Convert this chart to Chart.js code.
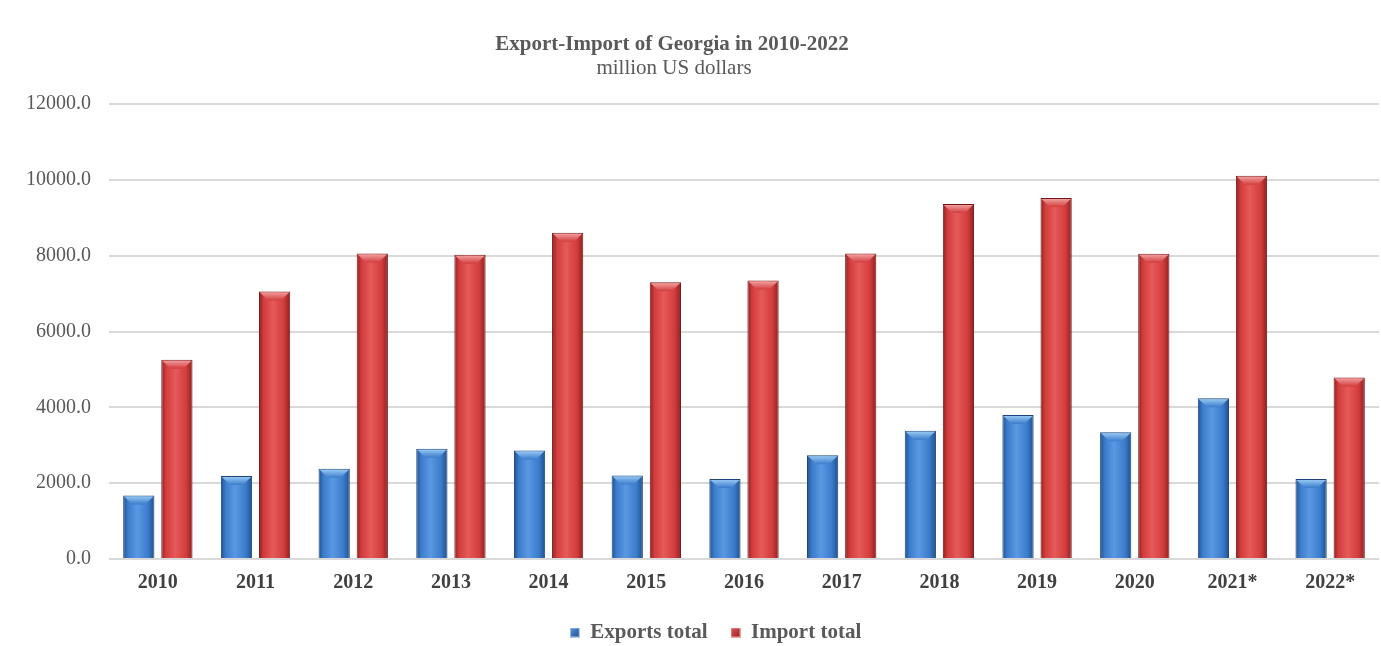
<!DOCTYPE html>
<html>
<head>
<meta charset="utf-8">
<script src="https://cdn.jsdelivr.net/npm/chart.js@4/dist/chart.umd.min.js"></script>
<style>
html,body{margin:0;padding:0;background:#fff;}
#wrap{width:1381px;height:646px;position:relative;}
</style>
</head>
<body>
<div id="wrap"><canvas id="c" width="1381" height="646"></canvas></div>
<script>
const categories = ['2010','2011','2012','2013','2014','2015','2016','2017','2018','2019','2020','2021*','2022*'];
const exportsTotal = [1677, 2186, 2377, 2910, 2861, 2205, 2113, 2737, 3380, 3798, 3342, 4242, 2110];
const importTotal = [5257, 7058, 8056, 8023, 8602, 7300, 7343, 8055, 9362, 9519, 8051, 10105, 4790];
const seriesNames = ['Exports total', 'Import total'];
const titleText = 'Export-Import of Georgia in 2010-2022';
const subtitleText = 'million US dollars';

const palettes = {
  blue: {edge:'#1f4f8c', mid:'#3a7bcb', light:'#5a98e2', border:'#1c4478', cap:'#9fd0f7'},
  red:  {edge:'#8e2020', mid:'#d23c3c', light:'#e65a5a', border:'#701818', cap:'#f5a8a8'}
};

function barGradient(p) {
  return function(ctx) {
    const el = ctx.element;
    const chart = ctx.chart;
    if (!el || el.x === undefined || !el.width || isNaN(el.x)) return p.mid;
    const x0 = el.x - el.width/2, x1 = el.x + el.width/2;
    const g = chart.ctx.createLinearGradient(x0, 0, x1, 0);
    g.addColorStop(0, p.edge);
    g.addColorStop(0.15, p.mid);
    g.addColorStop(0.45, p.light);
    g.addColorStop(0.8, p.mid);
    g.addColorStop(1, p.edge);
    return g;
  };
}

const bevelPlugin = {
  id: 'bevel',
  afterDatasetsDraw(chart) {
    const ctx = chart.ctx;
    const pals = [palettes.blue, palettes.red];
    chart.data.datasets.forEach((ds, i) => {
      const meta = chart.getDatasetMeta(i);
      meta.data.forEach(bar => {
        const w = bar.width, x0 = bar.x - w/2, x1 = bar.x + w/2, y = bar.y;
        const h = 9;
        ctx.save();
        const g = ctx.createLinearGradient(0, y, 0, y + h);
        g.addColorStop(0, pals[i].cap);
        g.addColorStop(1, pals[i].mid);
        ctx.fillStyle = g;
        ctx.beginPath();
        ctx.moveTo(x0 + 1, y + 1);
        ctx.lineTo(x1 - 1, y + 1);
        ctx.lineTo(x1 - w*0.3, y + h);
        ctx.lineTo(x0 + w*0.3, y + h);
        ctx.closePath();
        ctx.fill();
        ctx.restore();
      });
    });
  }
};

const headerPlugin = {
  id: 'header',
  afterLayout(chart) {
    if (chart.legend) { chart.legend.left += 22; chart.legend.right += 22; }
  },
  afterDraw(chart) {
    const ctx = chart.ctx;
    ctx.save();
    ctx.fillStyle = '#595959';
    ctx.textAlign = 'center';
    ctx.textBaseline = 'middle';
    ctx.font = 'bold 21px "Liberation Serif", serif';
    ctx.fillText(titleText, 672, 45);
    ctx.font = '21px "Liberation Serif", serif';
    ctx.fillText(subtitleText, 674, 68);
    ctx.restore();
  }
};

const legendBox = (p) => {
  const c = document.createElement('canvas');
  c.width = 10; c.height = 10;
  const x = c.getContext('2d');
  x.fillStyle = (p === palettes.red) ? '#f0a0a0' : '#a8c8ee';
  x.fillRect(0,0,10,10);
  const g = x.createLinearGradient(0,0,10,10);
  g.addColorStop(0, p.light); g.addColorStop(1, p.edge);
  x.fillStyle = g; x.fillRect(1,1,8,8);
  return c;
};

const chart = new Chart(document.getElementById('c'), {
  type: 'bar',
  data: {
    labels: categories,
    datasets: [
      {label: seriesNames[0], data: exportsTotal, backgroundColor: barGradient(palettes.blue), borderColor: palettes.blue.border, borderWidth: 1, pointStyle: legendBox(palettes.blue)},
      {label: seriesNames[1], data: importTotal, backgroundColor: barGradient(palettes.red), borderColor: palettes.red.border, borderWidth: 1, pointStyle: legendBox(palettes.red)}
    ]
  },
  options: {
    responsive: false,
    animation: false,
    devicePixelRatio: 1,
    layout: {padding: {left: 8, right: 2, top: 104, bottom: -7}},
    datasets: {bar: {categoryPercentage: 0.78, barPercentage: 0.82}},
    plugins: {
      title: {display: false},
      legend: {
        position: 'bottom',
        labels: {
          usePointStyle: true,
          color: '#595959',
          font: {family: '"Liberation Serif", serif', size: 21, weight: 'bold'},
          padding: 23,
          boxWidth: 10, boxHeight: 10
        }
      },
      tooltip: {enabled: false}
    },
    scales: {
      x: {
        grid: {display: false},
        border: {display: false},
        ticks: {color: '#404040', font: {family: '"Liberation Serif", serif', size: 20, weight: 'bold'}, padding: 4}
      },
      y: {
        min: 0, max: 12000,
        grid: {color: '#d9d9d9', lineWidth: 2, drawTicks: false},
        border: {display: false},
        ticks: {
          stepSize: 2000,
          color: '#595959',
          padding: 18,
          font: {family: '"Liberation Serif", serif', size: 20},
          callback: v => Number(v).toFixed(1)
        }
      }
    }
  },
  plugins: [bevelPlugin, headerPlugin]
});
chart.update();
</script>
</body>
</html>
